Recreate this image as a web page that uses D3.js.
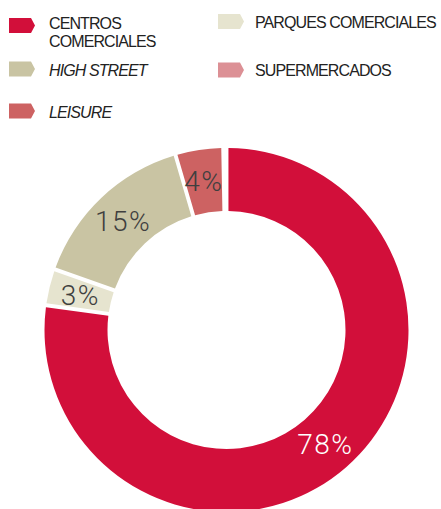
<!DOCTYPE html>
<html>
<head>
<meta charset="utf-8">
<script src="https://cdn.jsdelivr.net/npm/d3@7"></script>
<style>
  body { margin: 0; background: #fff; }
  svg { display: block; }
</style>
</head>
<body>
<div class="sandbox"></div>
<script>
// data
var categories = ["CENTROS COMERCIALES", "PARQUES COMERCIALES", "HIGH STREET", "LEISURE", "SUPERMERCADOS"];
var values = [78, 3, 15, 4, 0];
var colorList = ["#d20f3a", "#e6e4cf", "#c9c4a3", "#cd6262", "#dc9095"];

// legend layout (order as drawn in the reference)
var legendItems = [
  { name: "CENTROS", name2: "COMERCIALES", italic: false, idx: 0, x: 9, y: 25.5, tx: 40, ty: 3.5 },
  { name: "PARQUES COMERCIALES", italic: false, idx: 1, x: 218, y: 21.5, tx: 37, ty: 6 },
  { name: "HIGH STREET", italic: true, idx: 2, x: 9, y: 69, tx: 40, ty: 6.5 },
  { name: "SUPERMERCADOS", italic: false, idx: 4, x: 218, y: 70, tx: 37, ty: 5.5 },
  { name: "LEISURE", italic: true, idx: 3, x: 9, y: 111, tx: 40, ty: 6.5 }
];

var w = 441, h = 509;
var svg = d3.select(".sandbox").append("svg")
  .attr("width", w).attr("height", h);

var color = d3.scaleOrdinal().domain(categories).range(colorList);

// legend
var lg = svg.selectAll("g.leg")
  .data(legendItems)
  .enter()
  .append("g")
  .attr("class", "leg")
  .attr("transform", d => "translate(" + [d.x, d.y] + ")");

lg.append("path")
  .attr("d", "M0,-7.5 L22,-7.5 L26,0 L22,7.5 L0,7.5 Z")
  .attr("fill", d => color(categories[d.idx]));

var lt = lg.append("text")
  .attr("x", d => d.tx)
  .attr("y", d => d.ty)
  .attr("font-family", "'Liberation Sans', Arial, sans-serif")
  .attr("font-size", 16)
  .attr("letter-spacing", -0.9)
  .attr("font-style", d => d.italic ? "italic" : "normal")
  .attr("fill", "#222");
lt.append("tspan").text(d => d.name);
lt.filter(d => d.name2).append("tspan")
  .attr("x", d => d.tx).attr("dy", 18)
  .text(d => d.name2);

// donut
var cx = 226.5, cy = 330, rOut = 182, rIn = 119;
var pie = d3.pie().sort(null).value(d => d.v).padAngle(0.018);
var arc = d3.arc().innerRadius(rIn).outerRadius(rOut);

var pdata = pie(categories.map((c, i) => ({ c: c, v: values[i] })));

var g = svg.append("g").attr("transform", "translate(" + [cx, cy] + ")");

g.selectAll("path")
  .data(pdata.filter(d => d.data.v > 0))
  .enter()
  .append("path")
  .attr("d", arc)
  .attr("fill", d => color(d.data.c));

g.selectAll("text")
  .data(pdata.filter(d => d.data.v > 0))
  .enter()
  .append("text")
  .attr("transform", d => "translate(" + arc.centroid(d) + ")")
  .attr("text-anchor", "middle")
  .attr("dy", "0.36em")
  .attr("font-family", "Roboto, 'Liberation Sans', sans-serif")
  .attr("font-weight", 300)
  .attr("font-size", 28)
  .attr("letter-spacing", 1.5)
  .attr("fill", d => d.data.c === "CENTROS COMERCIALES" ? "#fff" : "#3f3f3f")
  .text(d => d.data.v + "%");
</script>
</body>
</html>
